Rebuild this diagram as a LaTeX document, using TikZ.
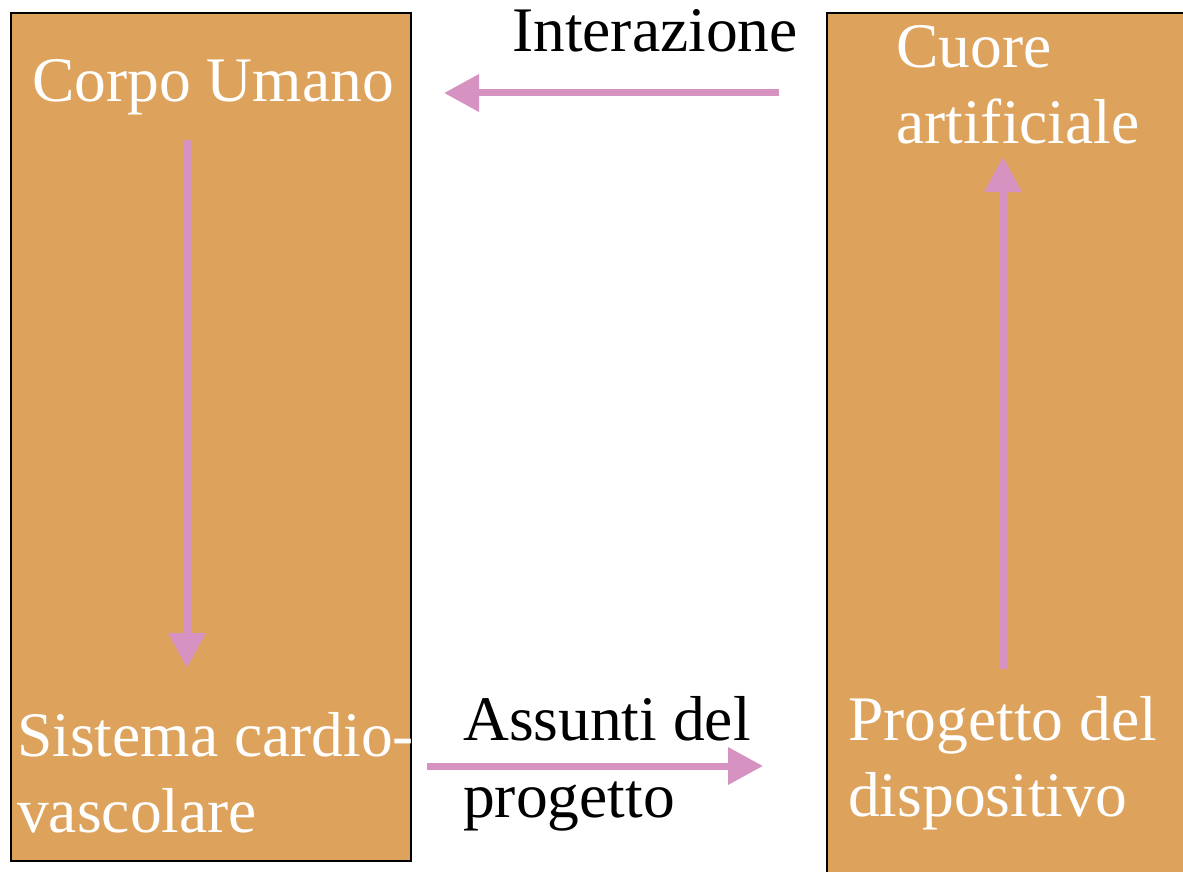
\documentclass[tikz,border=0pt]{standalone}
\usepackage{fontspec}
\setmainfont{Liberation Serif}
\usetikzlibrary{arrows.meta}
\definecolor{boxfill}{RGB}{221,163,93}
\definecolor{arrowpink}{RGB}{214,146,193}
\tikzset{
  panel/.style={draw=black, line width=1.5pt, fill=boxfill},
  wlabel/.style={anchor=base west, inner sep=0pt, text=white, font=\fontsize{63.5}{76}\selectfont},
  blabel/.style={anchor=base west, inner sep=0pt, text=black, font=\fontsize{63.5}{76}\selectfont},
  flow/.style={draw=arrowpink, line width=7pt, -{Triangle[length=35pt,width=36pt]}, shorten >=0pt}
}
\begin{document}
\begin{tikzpicture}[x=1pt,y=-1pt]
\useasboundingbox (0,0) rectangle (1183,872);
\begin{scope}
\clip (0,0) rectangle (1183,872);
\path[panel] (11,13) rectangle (411,861);
\path[panel] (827,13) rectangle (1195,885);
\end{scope}
% labels
\node[wlabel] (corpo) at (32,102) {Corpo Umano};
\node[wlabel] (sist1) at (17,756) {Sistema cardio-};
\node[wlabel] (sist2) at (17,832) {vascolare};
\node[wlabel] (cuore1) at (896,68) {Cuore};
\node[wlabel] (cuore2) at (896,143) {artificiale};
\node[wlabel] (prog1) at (848,740) {Progetto del};
\node[wlabel] (prog2) at (848,816) {dispositivo};
\node[blabel] (inter) at (512,52) {Interazione};
\node[blabel] (ass1) at (463,740) {Assunti del};
\node[blabel] (ass2) at (463,817) {progetto};
% connector end points
\coordinate (iA) at (779,93);
\coordinate (iB) at (444,93);
\coordinate (dA) at (187,140);
\coordinate (dB) at (187,668);
\coordinate (hA) at (427,766);
\coordinate (hB) at (763,766);
\coordinate (uA) at (1003,669);
\coordinate (uB) at (1003,157);
\draw[flow] (iA) -- (iB);
\draw[flow] (dA) -- (dB);
\draw[flow] (hA) -- (hB);
\draw[flow] (uA) -- (uB);
\end{tikzpicture}
\end{document}
